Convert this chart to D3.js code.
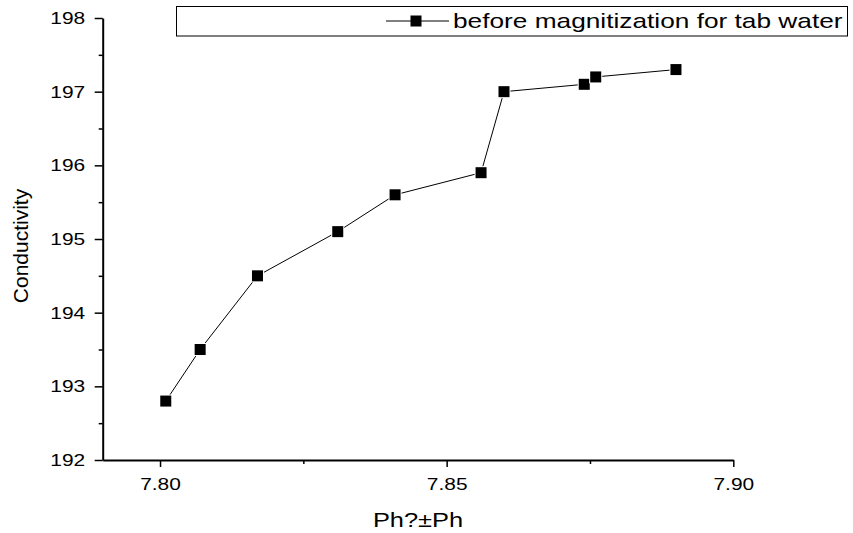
<!DOCTYPE html>
<html>
<head>
<meta charset="utf-8">
<script src="https://cdn.jsdelivr.net/npm/d3@7/dist/d3.min.js"></script>
<style>
  body { margin: 0; background: #fff; }
  text { font-family: "Liberation Sans", Arial, sans-serif; fill: #000; }
</style>
</head>
<body>
<div id="chart"></div>
<script>
// data
var ph = [7.801, 7.807, 7.817, 7.831, 7.841, 7.856, 7.860, 7.874, 7.876, 7.890];
var conductivity = [192.8, 193.5, 194.5, 195.1, 195.6, 195.9, 197.0, 197.1, 197.2, 197.3];
var xTicks = [7.80, 7.85, 7.90];
var xMinor = [7.825, 7.875];
var yTicks = [192, 193, 194, 195, 196, 197, 198];
var yMinor = [192.5, 193.5, 194.5, 195.5, 196.5, 197.5];
var seriesName = "before magnitization for tab water";

var width = 853, height = 533;
var plotLeft = 102.7, plotRight = 733.3, plotTop = 18, plotBottom = 460;
var stretch = 1.23; // the original text is a little wide

var svg = d3.select("#chart").append("svg")
    .attr("width", width)
    .attr("height", height);

var x = d3.scaleLinear().domain([7.79, 7.90]).range([plotLeft, plotRight]);
var y = d3.scaleLinear().domain([192, 198]).range([plotBottom, plotTop]);

// axes: major ticks with labels, then unlabelled minor ticks
svg.append("g")
    .attr("class", "xaxis")
    .attr("transform", "translate(0," + plotBottom + ")")
    .call(d3.axisBottom(x).tickValues(xTicks).tickFormat(d3.format(".2f"))
        .tickSize(7).tickSizeOuter(0).tickPadding(11));
svg.append("g")
    .attr("transform", "translate(0," + plotBottom + ")")
    .call(d3.axisBottom(x).tickValues(xMinor).tickFormat("").tickSize(4).tickSizeOuter(0))
    .select(".domain").remove();

svg.append("g")
    .attr("class", "yaxis")
    .attr("transform", "translate(" + plotLeft + ",0)")
    .call(d3.axisLeft(y).tickValues(yTicks).tickFormat(d3.format("d"))
        .tickSize(8).tickSizeOuter(0));
svg.append("g")
    .attr("transform", "translate(" + plotLeft + ",0)")
    .call(d3.axisLeft(y).tickValues(yMinor).tickFormat("").tickSize(4).tickSizeOuter(0))
    .select(".domain").remove();

svg.selectAll(".domain").attr("stroke", "#000").attr("stroke-width", 2);
svg.selectAll(".tick line").attr("stroke", "#000").attr("stroke-width", 1.5);
svg.selectAll(".tick text")
    .style("font-size", "17px")
    .style("font-family", "'Liberation Sans', Arial, sans-serif")
    .attr("fill", "#000");
svg.selectAll(".xaxis .tick text")
    .attr("transform", "scale(" + stretch + ",1)");
svg.selectAll(".yaxis .tick text")
    .attr("x", -17.5 / stretch)
    .attr("transform", "scale(" + stretch + ",1)");

// axis titles
svg.append("text")
    .attr("transform", "translate(418,527) scale(" + 1.27 + ",1)")
    .attr("text-anchor", "middle")
    .style("font-size", "20px")
    .text("Ph?±Ph");
svg.append("text")
    .attr("transform", "translate(28,246) rotate(-90)")
    .attr("text-anchor", "middle")
    .style("font-size", "21px")
    .text("Conductivity");

// series
var pts = ph.map(function (d, i) { return [d, conductivity[i]]; });
svg.append("path")
    .datum(pts)
    .attr("fill", "none")
    .attr("stroke", "#000")
    .attr("stroke-width", 1)
    .attr("d", d3.line().x(function (d) { return x(d[0]); }).y(function (d) { return y(d[1]); }));

var ms = 11;
svg.selectAll("rect.pt")
    .data(pts)
    .join("rect")
    .attr("class", "pt")
    .attr("x", function (d) { return x(d[0]) - ms / 2; })
    .attr("y", function (d) { return y(d[1]) - ms / 2; })
    .attr("width", ms).attr("height", ms)
    .attr("fill", "#000")
    .attr("stroke", "#fff")
    .attr("stroke-width", 2)
    .attr("paint-order", "stroke");

// legend
var lg = svg.append("g");
lg.append("rect")
    .attr("x", 176.5).attr("y", 6.5)
    .attr("width", 671).attr("height", 29.5)
    .attr("fill", "#fff").attr("stroke", "#000").attr("stroke-width", 1);
lg.append("line")
    .attr("x1", 386).attr("x2", 449).attr("y1", 21).attr("y2", 21)
    .attr("stroke", "#000").attr("stroke-width", 1);
lg.append("rect")
    .attr("x", 416 - ms / 2).attr("y", 21 - ms / 2)
    .attr("width", ms).attr("height", ms)
    .attr("fill", "#000");
lg.append("text")
    .attr("transform", "translate(453,28) scale(1.25,1)")
    .style("font-size", "21px")
    .text(seriesName);
</script>
</body>
</html>
